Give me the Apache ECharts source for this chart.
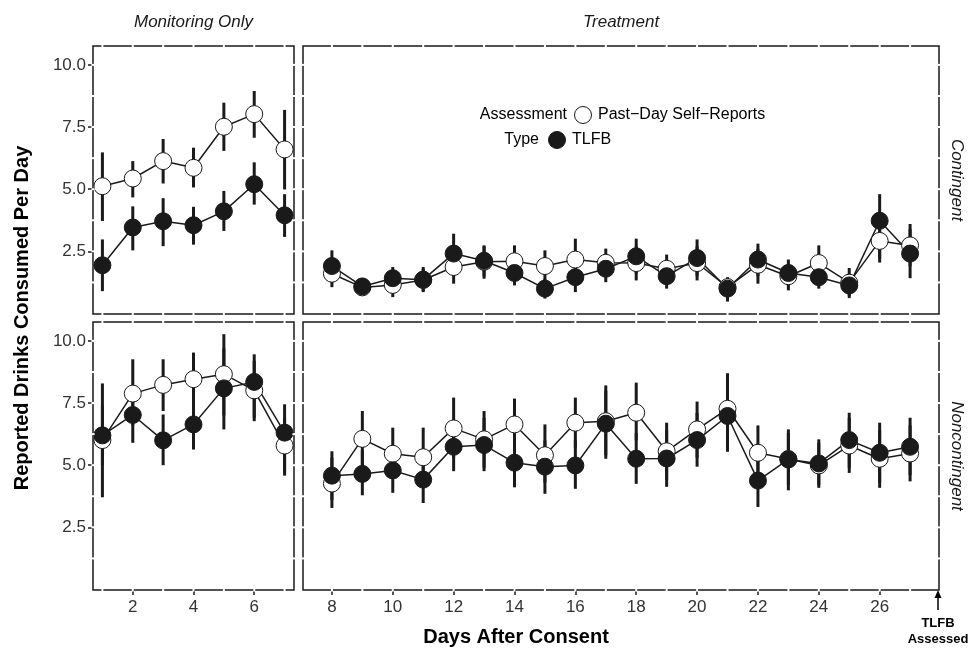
<!DOCTYPE html>
<html><head><meta charset="utf-8">
<script src="https://cdn.jsdelivr.net/npm/echarts@6/dist/echarts.min.js"></script>
<style>html,body{margin:0;padding:0;background:#fff}#c{width:970px;height:649px}</style>
</head><body><div id="c"></div>
<script>
// ---------- data ----------
const daysMon = [1,2,3,4,5,6,7];
const daysTreat = [8,9,10,11,12,13,14,15,16,17,18,19,20,21,22,23,24,25,26,27];
const yTicks = [2.5,5,7.5,10];
const xTicksMon = [2,4,6];
const xTicksTreat = [8,10,12,14,16,18,20,22,24,26];
const gapY = [1.25,2.5,3.75,5,6.25,7.5,8.75,10];

// Contingent – Monitoring Only
const srContMon     = [5.12,5.43,6.13,5.86,7.51,8.02,6.60];
const srContMonLo   = [3.72,4.67,5.23,5.07,6.54,7.07,4.99];
const srContMonHi   = [6.48,6.13,7.02,6.67,8.48,8.95,8.19];
const tlfbContMon   = [1.94,3.46,3.71,3.55,4.11,5.20,3.95];
const tlfbContMonLo = [0.90,2.54,2.71,2.77,3.32,4.38,3.08];
const tlfbContMonHi = [2.98,4.31,4.64,4.29,4.93,6.08,4.80];

// Contingent – Treatment
const srContTr     = [1.60,1.05,1.15,1.35,1.87,2.08,2.10,1.91,2.17,2.04,2.03,1.80,2.03,1.06,1.96,1.50,2.03,1.24,2.92,2.74];
const srContTrLo   = [1.06,0.75,0.66,0.90,1.20,1.50,1.50,1.30,1.40,1.50,1.33,1.30,1.33,0.70,1.20,0.93,1.30,0.70,2.20,1.90];
const srContTrHi   = [2.20,1.35,1.60,1.80,2.60,2.70,2.74,2.54,3.01,2.61,2.70,2.37,2.70,1.46,2.60,2.00,2.74,1.83,3.60,3.60];
const tlfbContTr   = [1.91,1.09,1.42,1.36,2.41,2.12,1.63,1.00,1.46,1.80,2.30,1.50,2.23,1.00,2.17,1.63,1.46,1.13,3.73,2.41];
const tlfbContTrLo = [1.30,0.73,1.00,0.86,1.60,1.40,1.13,0.60,0.86,1.26,1.60,1.00,1.50,0.48,1.50,1.10,1.00,0.62,2.05,1.42];
const tlfbContTrHi = [2.54,1.40,1.87,1.87,3.21,2.74,2.10,1.40,2.00,2.30,3.01,2.00,2.98,1.40,2.81,2.17,1.90,1.60,4.80,3.40];

// Noncontingent – Monitoring Only
const srNonMon     = [6.01,7.88,8.23,8.46,8.66,8.01,5.79];
const srNonMonLo   = [3.71,6.60,7.18,7.30,7.00,6.90,4.70];
const srNonMonHi   = [8.29,9.26,9.26,9.53,10.27,9.20,6.90];
const tlfbNonMon   = [6.20,7.02,6.00,6.64,8.09,8.35,6.31];
const tlfbNonMonLo = [5.00,5.90,5.00,5.63,6.44,6.77,4.58];
const tlfbNonMonHi = [7.40,8.10,7.04,7.70,9.70,9.46,7.45];

// Noncontingent – Treatment
const srNonTr     = [4.26,6.06,5.46,5.32,6.48,6.04,6.64,5.40,6.71,6.77,7.11,5.56,6.44,7.27,5.50,5.25,4.99,5.79,5.26,5.47];
const srNonTrLo   = [3.28,5.00,4.50,4.30,5.30,4.90,5.60,4.30,5.70,5.40,6.00,4.40,5.30,5.90,4.40,4.20,4.09,4.69,4.09,4.35];
const srNonTrHi   = [5.30,7.18,6.51,6.51,7.72,7.18,7.68,6.64,7.72,8.21,8.32,6.71,7.56,8.70,6.60,6.30,5.90,6.90,6.40,6.60];
const tlfbNonTr   = [4.58,4.65,4.79,4.42,5.74,5.81,5.10,4.94,4.99,6.67,5.26,5.27,6.01,6.98,4.38,5.23,5.07,6.01,5.50,5.74];
const tlfbNonTrLo = [3.60,3.79,3.89,3.48,4.76,4.76,4.11,3.85,4.05,5.26,4.25,4.13,4.94,5.54,3.32,3.99,4.20,4.90,4.30,4.60];
const tlfbNonTrHi = [5.56,5.60,5.70,5.40,6.70,6.90,6.10,6.00,6.00,8.00,6.30,6.40,7.10,8.40,5.40,6.44,6.04,7.11,6.71,6.91];

// ---------- chart ----------
const FONT = "'Liberation Sans', Arial, Helvetica, sans-serif";
const INK = '#1a1a1a';
const YMIN = -0.02, YMAX = 10.76;
const MON = [0.69, 7.31], TRT = [7.05, 27.95];

const grids = [
  {left:93, top:46, width:201, height:268},
  {left:303, top:46, width:636, height:268},
  {left:93, top:322, width:201, height:268},
  {left:303, top:322, width:636, height:268}
].map(g => Object.assign(g, {show:true, borderColor:INK, borderWidth:1.5, backgroundColor:'#fff', containLabel:false}));

function xAx(gi, range, ticks, showLabels){
  return {type:'value', gridIndex:gi, min:range[0], max:range[1],
    axisLine:{show:false, onZero:false}, splitLine:{show:false},
    axisTick:{show:showLabels, customValues:ticks, length:5, lineStyle:{color:INK, width:1.5}},
    axisLabel:{show:showLabels, customValues:ticks, fontSize:17, color:'#333', fontFamily:FONT, margin:9}};
}
function yAx(gi, showLabels){
  return {type:'value', gridIndex:gi, min:YMIN, max:YMAX,
    axisLine:{show:false, onZero:false}, splitLine:{show:false},
    axisTick:{show:showLabels, customValues:yTicks, length:5, lineStyle:{color:INK, width:1.5}},
    axisLabel:{show:showLabels, customValues:yTicks, fontSize:17, color:'#333', fontFamily:FONT, margin:7,
      formatter:v => v.toFixed(1)}};
}

const xAxes = [xAx(0,MON,xTicksMon,false), xAx(1,TRT,xTicksTreat,false), xAx(2,MON,xTicksMon,true), xAx(3,TRT,xTicksTreat,true)];
const yAxes = [yAx(0,true), yAx(1,false), yAx(2,true), yAx(3,false)];

function errSeries(gi, days, lo, hi){
  return {type:'custom', xAxisIndex:gi, yAxisIndex:gi, z:2, silent:true, clip:false,
    data: days.map((d,i)=>[d, lo[i], hi[i]]), encode:{x:0, y:[1,2]},
    renderItem:(params, api)=>{
      const p1 = api.coord([api.value(0), api.value(1)]);
      const p2 = api.coord([api.value(0), api.value(2)]);
      return {type:'line', shape:{x1:p1[0], y1:p1[1], x2:p2[0], y2:p2[1]}, style:{stroke:INK, lineWidth:3}};
    }};
}
function lineSeries(gi, days, vals){
  return {type:'line', xAxisIndex:gi, yAxisIndex:gi, z:3, silent:true, symbol:'none',
    lineStyle:{color:INK, width:1.5}, data: days.map((d,i)=>[d, vals[i]])};
}
function ptSeries(gi, days, vals, filled){
  return {type:'scatter', xAxisIndex:gi, yAxisIndex:gi, z: filled?5:4, silent:true, symbol:'circle', symbolSize:17,
    itemStyle: filled ? {color:INK, borderColor:INK, borderWidth:1, opacity:1} : {color:'#fff', borderColor:INK, borderWidth:1, opacity:1},
    data: days.map((d,i)=>[d, vals[i]])};
}
function gapSeries(gi, days, midX){
  const data = days.map(d=>[d, 5, 0]).concat(gapY.map(v=>[midX, v, 1]));
  return {type:'custom', xAxisIndex:gi, yAxisIndex:gi, z:10, silent:true, clip:false, data, encode:{x:0,y:1},
    renderItem:(params, api)=>{
      const cs = params.coordSys;
      const p = api.coord([api.value(0), api.value(1)]);
      const st = {fill:'#fff'};
      if (api.value(2) === 0) {
        return {type:'group', children:[
          {type:'rect', shape:{x:p[0]-1, y:cs.y-1.6, width:2, height:3.2}, style:st},
          {type:'rect', shape:{x:p[0]-1, y:cs.y+cs.height-1.6, width:2, height:3.2}, style:st}]};
      }
      return {type:'group', children:[
        {type:'rect', shape:{x:cs.x-1.6, y:p[1]-1, width:3.2, height:2}, style:st},
        {type:'rect', shape:{x:cs.x+cs.width-1.6, y:p[1]-1, width:3.2, height:2}, style:st}]};
    }};
}

const panels = [
  [0, daysMon, srContMon, srContMonLo, srContMonHi, tlfbContMon, tlfbContMonLo, tlfbContMonHi, 4],
  [1, daysTreat, srContTr, srContTrLo, srContTrHi, tlfbContTr, tlfbContTrLo, tlfbContTrHi, 17],
  [2, daysMon, srNonMon, srNonMonLo, srNonMonHi, tlfbNonMon, tlfbNonMonLo, tlfbNonMonHi, 4],
  [3, daysTreat, srNonTr, srNonTrLo, srNonTrHi, tlfbNonTr, tlfbNonTrLo, tlfbNonTrHi, 17]
];
const series = [];
panels.forEach(([gi, days, sr, srLo, srHi, tl, tlLo, tlHi, mid])=>{
  series.push(errSeries(gi, days, srLo, srHi));
  series.push(errSeries(gi, days, tlLo, tlHi));
  series.push(lineSeries(gi, days, sr));
  series.push(lineSeries(gi, days, tl));
  series.push(ptSeries(gi, days, sr, false));
  series.push(ptSeries(gi, days, tl, true));
  series.push(gapSeries(gi, days, mid));
});

const txt = (x, y, text, o) => Object.assign({type:'text', x, y, silent:true,
  style:Object.assign({text, fill:INK, font:'17px '+FONT, textAlign:'center', textVerticalAlign:'middle'}, o && o.style)},
  o && o.rotation !== undefined ? {rotation:o.rotation} : {});

const graphic = [
  txt(193.5, 22, 'Monitoring Only', {style:{font:'italic 17px '+FONT}}),
  txt(621, 22, 'Treatment', {style:{font:'italic 17px '+FONT}}),
  txt(957, 180, 'Contingent', {rotation:-Math.PI/2, style:{font:'italic 17px '+FONT}}),
  txt(957, 456, 'Noncontingent', {rotation:-Math.PI/2, style:{font:'italic 17px '+FONT}}),
  txt(22, 318, 'Reported Drinks Consumed Per Day', {rotation:Math.PI/2, style:{font:'bold 20px '+FONT, fill:'#000'}}),
  txt(516, 637, 'Days After Consent', {style:{font:'bold 20px '+FONT, fill:'#000'}}),
  // legend
  txt(567, 115, 'Assessment', {style:{font:'16px '+FONT, textAlign:'right', fill:'#000'}}),
  txt(539, 140, 'Type', {style:{font:'16px '+FONT, textAlign:'right', fill:'#000'}}),
  {type:'circle', silent:true, shape:{cx:583, cy:115, r:8.5}, style:{fill:'#fff', stroke:INK, lineWidth:1}},
  {type:'circle', silent:true, shape:{cx:557, cy:140, r:8.5}, style:{fill:INK, stroke:INK, lineWidth:1}},
  txt(598, 115, 'Past\u2212Day Self\u2212Reports', {style:{font:'16px '+FONT, textAlign:'left', fill:'#000'}}),
  txt(572, 140, 'TLFB', {style:{font:'16px '+FONT, textAlign:'left', fill:'#000'}}),
  // TLFB assessed annotation
  {type:'line', silent:true, shape:{x1:938, y1:610, x2:938, y2:596}, style:{stroke:'#000', lineWidth:1.5}},
  {type:'polygon', silent:true, shape:{points:[[938,590],[934.5,598],[941.5,598]]}, style:{fill:'#000'}},
  txt(938, 623, 'TLFB', {style:{font:'bold 13px '+FONT, fill:'#000'}}),
  txt(938, 639, 'Assessed', {style:{font:'bold 13px '+FONT, fill:'#000'}})
];

const chart = echarts.init(document.getElementById('c'), null, {renderer:'canvas'});
chart.setOption({
  animation:false, backgroundColor:'#fff',
  textStyle:{fontFamily:FONT},
  grid:grids, xAxis:xAxes, yAxis:yAxes, series, graphic
});
</script></body></html>
